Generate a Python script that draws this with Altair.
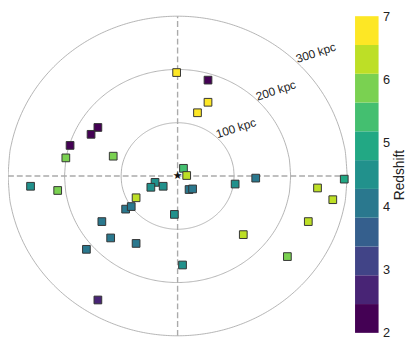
import altair as alt
import numpy as np
import pandas as pd

# ---- data ----
px_x = [-1.7, 53.8, 53.8, 35.2, -141.0, -153.1, -190.2, -197.7, -113.9, 10.4, 16.1,
        -39.9, -47.3, -25.5, -260.1, -212.1, -73.4, -91.9, -82.0, -5.7, -134.0,
        -118.4, -73.4, -161.3, -141.0, 20.3, 26.5, 101.8, 138.2, 294.8, 8.7,
        247.5, 274.5, 231.2, 116.2, 194.2]
px_y = [194.2, 180.0, 138.4, 118.7, 91.1, 78.2, 57.4, 34.0, 37.2, 14.4, 0.9,
        -12.0, -21.2, -19.3, -19.3, -27.2, -40.9, -62.2, -57.4, -72.1, -85.6,
        -116.3, -126.6, -137.7, -232.8, -25.4, -24.3, -15.1, -4.0, -5.9, -167.1,
        -22.5, -44.5, -85.6, -110.1, -151.3]
redshift = [6.8, 2.2, 6.8, 6.8, 2.2, 2.2, 2.2, 5.9, 5.9, 5.4, 6.3,
            4.5, 4.5, 4.5, 4.5, 5.9, 6.3, 4.0, 4.0, 4.5, 4.0,
            4.0, 4.0, 4.0, 2.7, 4.0, 4.0, 4.5, 4.0, 4.9, 4.5,
            6.3, 6.3, 6.3, 6.3, 5.9]
radii = [100, 200, 300]
ring_labels = ["100 kpc", "200 kpc", "300 kpc"]
z_edges = [float(v) for v in np.linspace(2, 7, 12)]
viridis11 = ["#440154", "#482475", "#414487", "#355f8d", "#2a788e", "#21918c",
             "#22a884", "#44bf70", "#7ad151", "#bddf26", "#fde725"]
cbar_ticks = [2, 3, 4, 5, 6, 7]

FONT = "Liberation Sans"
LIM = 300

pts = pd.DataFrame({"x": px_x, "y": px_y, "z": redshift})

xs = alt.Scale(domain=[-LIM, LIM], nice=False, zero=False)
ys = alt.Scale(domain=[-LIM, LIM], nice=False, zero=False)
cscale = alt.Scale(type="threshold", domain=z_edges[1:-1], range=viridis11)

def X(f="x"):
    return alt.X(f"{f}:Q", scale=xs, axis=None)

def Y(f="y"):
    return alt.Y(f"{f}:Q", scale=ys, axis=None)

# rings as upper / lower half lines (each sorted by x naturally)
ring_layers = []
for r in radii:
    xx = np.linspace(-r, r, 201)
    yy = np.sqrt(np.clip(r * r - xx * xx, 0, None))
    for sgn in (1, -1):
        d = pd.DataFrame({"x": [float(v) for v in xx],
                          "y": [float(sgn * v) for v in yy]})
        ring_layers.append(
            alt.Chart(d).mark_line(color="#a0a0a0", strokeWidth=0.8,
                                   interpolate="monotone").encode(x=X(), y=Y()))

cross = pd.DataFrame({"x": [-LIM, 0], "x2": [LIM, 0], "y": [0, -LIM], "y2": [0, LIM]})
cross_layer = alt.Chart(cross).mark_rule(
    color="#aaaaaa", strokeWidth=1.4, strokeDash=[6, 3]).encode(
    x=X(), x2="x2:Q", y=Y(), y2="y2:Q")

labels = pd.DataFrame({
    "x": [float(r * np.cos(np.pi / 4)) for r in radii],
    "y": [float(r * np.sin(np.pi / 4)) for r in radii],
    "t": ring_labels,
})
text_layer = alt.Chart(labels).mark_text(
    font=FONT, fontSize=12, angle=342, align="left", baseline="alphabetic",
    color="#222222").encode(x=X(), y=Y(), text="t:N")

pt_layer = alt.Chart(pts).mark_square(size=62, stroke="#333333", strokeWidth=1,
                                      opacity=1).encode(
    x=X(), y=Y(), color=alt.Color("z:Q", scale=cscale, legend=None))

center = pd.DataFrame({"x": [0.0], "y": [0.0], "s": ["★"]})
star_layer = alt.Chart(center).mark_text(
    font="DejaVu Sans", fontSize=11, color="#111111", baseline="middle",
    align="center").encode(x=X(), y=Y(), text="s:N")

main = alt.layer(*ring_layers, cross_layer, text_layer, pt_layer, star_layer).properties(
    width=346, height=326)

cb = pd.DataFrame({"lo": z_edges[:-1], "hi": z_edges[1:],
                   "z": [(a + b) / 2 for a, b in zip(z_edges[:-1], z_edges[1:])]})
cbar = alt.Chart(cb).mark_rect().encode(
    x=alt.value(0), x2=alt.value(24),
    y=alt.Y("lo:Q", scale=alt.Scale(domain=[2, 7], nice=False, zero=False),
            axis=alt.Axis(orient="right", values=cbar_ticks, title="Redshift",
                          domain=False, ticks=False, labelPadding=4, grid=False,
                          labelFontSize=13, titleFontSize=14, titleFontWeight="normal",
                          labelFont=FONT, titleFont=FONT, labelColor="#222222",
                          titleColor="#222222", titlePadding=3, titleAngle=270,
                          titleBaseline="top")),
    y2="hi:Q",
    color=alt.Color("z:Q", scale=cscale, legend=None),
).properties(width=24, height=323)

chart = alt.hconcat(main, cbar, spacing=5,
                    padding={"left": -2, "top": -1, "right": 0, "bottom": 0}
                    ).configure_view(strokeWidth=0)

chart.save("out.html", embed_options={"renderer": "svg", "actions": False})
